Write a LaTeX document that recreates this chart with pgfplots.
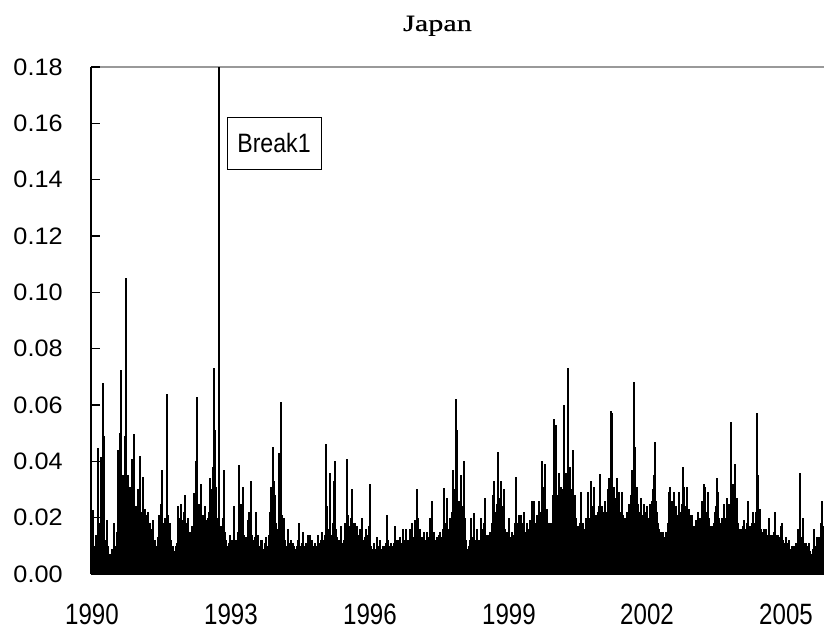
\documentclass[border=0pt]{standalone}
\usepackage{pgfplots}
\pgfplotsset{compat=1.18}
\usepackage{fontspec}
\setmainfont{Liberation Sans}
\newfontfamily\titlefont{Liberation Serif}[FakeStretch=1.3,FakeBold=0.6]
\newfontfamily\xfont{Liberation Sans}[FakeStretch=0.82]
\newfontfamily\yfont{Liberation Sans}[FakeStretch=1.06]
\newfontfamily\bfont{Liberation Sans}[FakeStretch=0.87]
\begin{document}
\begin{tikzpicture}
\useasboundingbox (0,0) rectangle (412pt,315.5pt);
\begin{axis}[
  at={(45.5pt,28.5pt)}, anchor=south west,
  width=366.5pt, height=253.5pt, scale only axis,
  xmin=91, xmax=824, ymin=0, ymax=0.18,
  axis x line*=bottom, axis y line*=left,
  axis line style={black, line width=0.65pt},
  xtick={92,231,370,509,647,786},
  xticklabels={1990,1993,1996,1999,2002,2005},
  xtick style={draw=none},
  xticklabel style={font=\xfont\fontsize{14.7}{16}\selectfont, inner sep=0pt, anchor=north, yshift=-15pt},
  ytick={0,0.02,0.04,0.06,0.08,0.1,0.12,0.14,0.16,0.18},
  ytick align=inside,
  major tick length=4.5pt,
  ytick style={draw=black, line width=0.8pt},
  yticklabel style={font=\yfont\fontsize{11.9}{13}\selectfont, inner sep=0pt, anchor=east, xshift=-14pt},
  /pgf/number format/fixed, /pgf/number format/fixed zerofill, /pgf/number format/precision=2,
  /pgf/number format/assume math mode=true,
]
\draw[black!40, line width=0.7pt] (rel axis cs:0,1) -- (rel axis cs:1,1);
\draw[black, line width=0.6pt] (axis cs:91,0.02) -- (axis cs:100,0.02);
\draw[black, line width=0.6pt] (axis cs:91,0.04) -- (axis cs:100,0.04);
\draw[black, line width=0.6pt] (axis cs:91,0.06) -- (axis cs:100,0.06);
\draw[black, line width=0.6pt] (axis cs:91,0.08) -- (axis cs:100,0.08);
\draw[black, line width=0.6pt] (axis cs:91,0.10) -- (axis cs:100,0.10);
\draw[black, line width=0.6pt] (axis cs:91,0.12) -- (axis cs:100,0.12);
\draw[black, line width=0.6pt] (axis cs:91,0.14) -- (axis cs:100,0.14);
\draw[black, line width=0.6pt] (axis cs:91,0.16) -- (axis cs:100,0.16);
\draw[black, line width=1.2pt] (axis cs:91,0.18) -- (axis cs:100,0.18);
\addplot[ycomb, black, line width=0.6pt, mark=none] coordinates {
(92,0.012)(93,0.0227)(94,0.010)(96,0.014)(98,0.0446)(99,0.018)(101,0.0416)(102,0.010)(103,0.0677)(104,0.049)(105,0.012)(106,0.008)(107,0.019)(108,0.010)(110,0.007)(112,0.009)(114,0.018)(116,0.010)(117,0.015)(118,0.044)(119,0.028)(120,0.050)(121,0.0724)(122,0.035)(123,0.022)(124,0.035)(125,0.049)(126,0.105)(127,0.028)(128,0.035)(130,0.031)(131,0.022)(132,0.041)(133,0.025)(134,0.0497)(135,0.024)(136,0.024)(137,0.018)(138,0.030)(139,0.020)(140,0.042)(141,0.022)(142,0.018)(143,0.0345)(144,0.020)(145,0.023)(146,0.017)(147,0.021)(148,0.022)(149,0.016)(150,0.018)(151,0.016)(152,0.013)(153,0.019)(154,0.011)(155,0.012)(156,0.009)(157,0.010)(158,0.013)(159,0.021)(160,0.014)(161,0.025)(162,0.037)(163,0.018)(164,0.014)(165,0.020)(166,0.016)(167,0.0638)(168,0.021)(169,0.015)(170,0.018)(171,0.012)(172,0.009)(173,0.010)(174,0.008)(175,0.008)(176,0.010)(177,0.011)(178,0.024)(179,0.015)(180,0.020)(181,0.025)(182,0.016)(183,0.019)(184,0.022)(185,0.028)(186,0.018)(187,0.015)(188,0.020)(189,0.012)(190,0.015)(191,0.011)(192,0.017)(193,0.013)(194,0.0286)(195,0.014)(196,0.040)(197,0.063)(198,0.020)(199,0.025)(200,0.025)(201,0.032)(202,0.018)(203,0.021)(204,0.016)(205,0.024)(206,0.015)(207,0.019)(208,0.020)(209,0.022)(210,0.034)(211,0.021)(212,0.030)(213,0.038)(214,0.073)(215,0.051)(216,0.031)(217,0.020)(218,0.015)(219,0.018)(220,0.012)(221,0.017)(222,0.013)(223,0.020)(224,0.037)(225,0.015)(226,0.012)(227,0.009)(228,0.010)(229,0.011)(230,0.014)(231,0.009)(232,0.012)(233,0.010)(234,0.024)(235,0.012)(236,0.012)(237,0.010)(238,0.015)(239,0.0387)(240,0.016)(241,0.025)(242,0.015)(243,0.031)(244,0.014)(245,0.011)(246,0.013)(247,0.012)(248,0.019)(249,0.022)(250,0.014)(251,0.033)(252,0.014)(253,0.012)(254,0.010)(255,0.013)(256,0.022)(257,0.011)(258,0.014)(259,0.009)(260,0.010)(261,0.012)(262,0.012)(263,0.009)(264,0.009)(265,0.011)(266,0.013)(267,0.008)(268,0.010)(269,0.014)(270,0.022)(271,0.031)(272,0.019)(273,0.045)(274,0.033)(275,0.028)(276,0.018)(277,0.016)(278,0.014)(279,0.043)(280,0.022)(281,0.061)(282,0.021)(283,0.020)(284,0.020)(285,0.012)(286,0.010)(287,0.010)(288,0.016)(289,0.011)(290,0.009)(291,0.012)(292,0.009)(293,0.011)(294,0.010)(295,0.009)(296,0.008)(297,0.010)(298,0.012)(299,0.018)(300,0.010)(301,0.009)(302,0.011)(303,0.015)(304,0.010)(305,0.009)(306,0.011)(307,0.010)(308,0.014)(309,0.010)(310,0.014)(311,0.010)(312,0.012)(313,0.010)(314,0.009)(315,0.011)(316,0.010)(317,0.009)(318,0.014)(319,0.010)(320,0.011)(321,0.012)(322,0.015)(323,0.010)(324,0.012)(325,0.014)(326,0.046)(327,0.024)(328,0.014)(329,0.016)(330,0.036)(331,0.014)(332,0.013)(333,0.018)(334,0.033)(335,0.040)(336,0.016)(337,0.013)(338,0.011)(339,0.012)(340,0.010)(341,0.017)(342,0.011)(343,0.010)(344,0.012)(345,0.018)(346,0.013)(347,0.041)(348,0.021)(349,0.015)(350,0.017)(351,0.020)(352,0.030)(353,0.018)(354,0.013)(355,0.018)(356,0.012)(357,0.017)(358,0.013)(359,0.014)(360,0.016)(361,0.013)(362,0.020)(363,0.012)(364,0.010)(365,0.013)(366,0.016)(367,0.011)(368,0.014)(369,0.017)(370,0.032)(371,0.010)(372,0.009)(373,0.009)(374,0.011)(375,0.008)(376,0.009)(377,0.013)(378,0.009)(379,0.010)(380,0.012)(381,0.008)(382,0.009)(383,0.010)(384,0.010)(385,0.008)(386,0.011)(387,0.021)(388,0.012)(389,0.010)(390,0.009)(391,0.011)(392,0.010)(393,0.008)(394,0.011)(395,0.017)(396,0.010)(397,0.012)(398,0.012)(399,0.010)(400,0.013)(401,0.011)(402,0.010)(403,0.016)(404,0.011)(405,0.012)(406,0.016)(407,0.011)(408,0.012)(409,0.010)(410,0.016)(411,0.011)(412,0.018)(413,0.012)(414,0.013)(415,0.019)(416,0.013)(417,0.030)(418,0.020)(419,0.014)(420,0.016)(421,0.012)(422,0.013)(423,0.012)(424,0.015)(425,0.011)(426,0.012)(427,0.015)(428,0.012)(429,0.013)(430,0.020)(431,0.014)(432,0.026)(433,0.014)(434,0.015)(435,0.012)(436,0.011)(437,0.013)(438,0.012)(439,0.014)(440,0.015)(441,0.012)(442,0.013)(443,0.016)(444,0.0306)(445,0.016)(446,0.018)(447,0.027)(448,0.015)(449,0.016)(450,0.020)(451,0.016)(452,0.022)(453,0.037)(454,0.025)(455,0.030)(456,0.062)(457,0.051)(458,0.024)(459,0.026)(460,0.018)(461,0.035)(462,0.020)(463,0.024)(464,0.040)(465,0.020)(466,0.012)(467,0.009)(468,0.008)(469,0.010)(470,0.012)(471,0.020)(472,0.010)(473,0.013)(474,0.0215)(475,0.012)(476,0.010)(477,0.016)(478,0.010)(479,0.012)(480,0.011)(481,0.020)(482,0.013)(483,0.016)(484,0.018)(485,0.027)(486,0.014)(487,0.012)(488,0.014)(489,0.011)(490,0.015)(491,0.012)(492,0.018)(493,0.028)(494,0.033)(495,0.022)(496,0.020)(497,0.025)(498,0.0434)(499,0.027)(500,0.026)(501,0.033)(502,0.022)(503,0.024)(504,0.030)(505,0.016)(506,0.014)(507,0.015)(508,0.013)(509,0.020)(510,0.012)(511,0.013)(512,0.015)(513,0.012)(514,0.014)(515,0.018)(516,0.0345)(517,0.018)(518,0.016)(519,0.021)(520,0.017)(521,0.021)(522,0.016)(523,0.018)(524,0.022)(525,0.015)(526,0.014)(527,0.018)(528,0.014)(529,0.016)(530,0.019)(531,0.018)(532,0.026)(533,0.020)(534,0.026)(535,0.018)(536,0.017)(537,0.021)(538,0.016)(539,0.026)(540,0.019)(541,0.022)(542,0.040)(543,0.025)(544,0.031)(545,0.039)(546,0.022)(547,0.023)(548,0.016)(549,0.018)(550,0.015)(551,0.018)(552,0.016)(553,0.028)(554,0.055)(555,0.030)(556,0.053)(557,0.028)(558,0.024)(559,0.036)(560,0.022)(561,0.031)(562,0.024)(563,0.030)(564,0.060)(565,0.036)(566,0.030)(567,0.036)(568,0.073)(569,0.035)(570,0.038)(571,0.028)(572,0.030)(573,0.044)(574,0.026)(575,0.028)(576,0.020)(577,0.016)(578,0.017)(579,0.015)(580,0.018)(581,0.029)(582,0.018)(583,0.018)(584,0.015)(585,0.016)(586,0.020)(587,0.019)(588,0.029)(589,0.020)(590,0.020)(591,0.033)(592,0.022)(593,0.024)(594,0.031)(595,0.020)(596,0.021)(597,0.018)(598,0.022)(599,0.024)(600,0.0355)(601,0.020)(602,0.024)(603,0.018)(604,0.022)(605,0.026)(606,0.020)(607,0.022)(608,0.030)(609,0.034)(610,0.030)(611,0.058)(612,0.057)(613,0.030)(614,0.031)(615,0.025)(616,0.027)(617,0.034)(618,0.022)(619,0.029)(620,0.020)(621,0.022)(622,0.029)(623,0.021)(624,0.017)(625,0.020)(626,0.018)(627,0.022)(628,0.021)(629,0.025)(630,0.022)(631,0.028)(632,0.037)(633,0.030)(634,0.068)(635,0.045)(636,0.027)(637,0.031)(638,0.025)(639,0.018)(640,0.022)(641,0.027)(642,0.020)(643,0.021)(644,0.025)(645,0.018)(646,0.022)(647,0.024)(648,0.019)(649,0.020)(650,0.025)(651,0.020)(652,0.026)(653,0.030)(654,0.035)(655,0.047)(656,0.026)(657,0.022)(658,0.018)(659,0.016)(660,0.013)(661,0.015)(662,0.012)(663,0.015)(664,0.011)(665,0.013)(666,0.015)(667,0.012)(668,0.018)(669,0.029)(670,0.031)(671,0.024)(672,0.026)(673,0.020)(674,0.029)(675,0.020)(676,0.024)(677,0.018)(678,0.021)(679,0.029)(680,0.022)(681,0.019)(682,0.025)(683,0.038)(684,0.031)(685,0.024)(686,0.022)(687,0.031)(688,0.020)(689,0.023)(690,0.018)(691,0.021)(692,0.021)(693,0.016)(694,0.017)(695,0.015)(696,0.019)(697,0.016)(698,0.022)(699,0.017)(700,0.020)(701,0.018)(702,0.026)(703,0.019)(704,0.032)(705,0.031)(706,0.022)(707,0.020)(708,0.029)(709,0.020)(710,0.017)(711,0.016)(712,0.017)(713,0.014)(714,0.018)(715,0.022)(716,0.024)(717,0.034)(718,0.029)(719,0.020)(720,0.018)(721,0.016)(722,0.020)(723,0.018)(724,0.025)(725,0.019)(726,0.020)(727,0.027)(728,0.022)(729,0.025)(730,0.024)(731,0.054)(732,0.025)(733,0.032)(734,0.028)(735,0.039)(736,0.023)(737,0.027)(738,0.018)(739,0.015)(740,0.016)(741,0.013)(742,0.016)(743,0.017)(744,0.019)(745,0.014)(746,0.016)(747,0.018)(748,0.026)(749,0.016)(750,0.017)(751,0.015)(752,0.018)(753,0.022)(754,0.017)(755,0.018)(756,0.022)(757,0.057)(758,0.035)(759,0.022)(760,0.023)(761,0.016)(762,0.015)(763,0.013)(764,0.016)(765,0.014)(766,0.016)(767,0.013)(768,0.014)(769,0.020)(770,0.014)(771,0.012)(772,0.014)(773,0.012)(774,0.015)(775,0.022)(776,0.014)(777,0.012)(778,0.014)(779,0.011)(780,0.013)(781,0.017)(782,0.018)(783,0.012)(784,0.011)(785,0.010)(786,0.013)(787,0.010)(788,0.011)(789,0.012)(790,0.008)(791,0.009)(792,0.010)(793,0.008)(794,0.010)(795,0.008)(796,0.011)(797,0.009)(798,0.016)(799,0.012)(800,0.036)(801,0.013)(802,0.010)(803,0.020)(804,0.011)(805,0.010)(806,0.011)(807,0.008)(808,0.010)(809,0.011)(810,0.008)(811,0.007)(812,0.006)(813,0.009)(814,0.016)(815,0.010)(816,0.009)(817,0.013)(818,0.010)(819,0.013)(820,0.012)(821,0.018)(822,0.026)(823,0.017)(824,0.015)
};
\addplot[black, line width=0.8pt, mark=none] coordinates {(219,0) (219,0.18)};
\node[draw=black, line width=0.5pt, fill=white, minimum width=47pt, minimum height=26pt, inner sep=0pt,
  font=\bfont\fontsize{13.3}{14}\selectfont] at (axis cs:274,0.153) {Break1};
\end{axis}
\node[font=\titlefont\fontsize{11.6}{12}\selectfont, anchor=base, inner sep=0pt] at (218.75pt,300pt) {Japan};
\end{tikzpicture}
\end{document}
